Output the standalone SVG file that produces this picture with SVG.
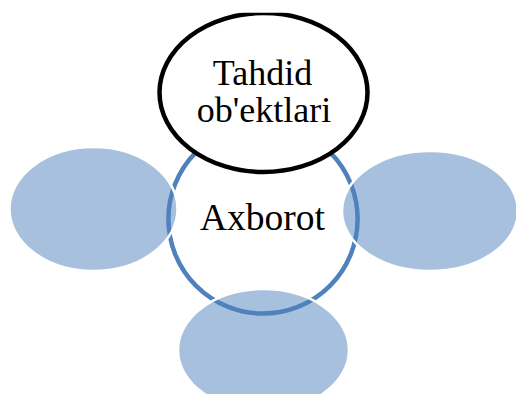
<svg xmlns="http://www.w3.org/2000/svg" width="516" height="394" viewBox="0 0 516 394">
  <defs>
    <clipPath id="topclip">
      <rect x="0" y="12.7" width="516" height="381.3"/>
    </clipPath>
  </defs>
  <style>
    .lbl { font-family: "Liberation Serif", "Times New Roman", serif; font-size: 36px; fill: #000; text-anchor: middle; }
    .petal { fill: #4F81BD; fill-opacity: 0.5; stroke: #FFFFFF; stroke-width: 2.5; }
  </style>
  <rect x="0" y="0" width="516" height="394" fill="#FFFFFF"/>
  <g id="node-axborot">
    <circle cx="263" cy="219" r="94.6" fill="#FFFFFF" stroke="#4F81BD" stroke-width="4.5"/>
    <text class="lbl" x="262.5" y="230" style="font-size:37.5px">Axborot</text>
  </g>
  <g id="node-left">
    <ellipse class="petal" cx="93.5" cy="209" rx="84" ry="62"/>
  </g>
  <g id="node-right">
    <ellipse class="petal" cx="430" cy="211" rx="88" ry="60"/>
  </g>
  <g id="node-bottom">
    <ellipse class="petal" cx="263.5" cy="350" rx="85.5" ry="61"/>
  </g>
  <g id="node-tahdid">
    <ellipse cx="263.5" cy="92.5" rx="104" ry="79.5" fill="#FFFFFF" stroke="#000000" stroke-width="4.5" clip-path="url(#topclip)"/>
    <text class="lbl" x="262.5" y="85">Tahdid</text>
    <text class="lbl" x="264" y="122">ob'ektlari</text>
  </g>
  <g id="connectors"/>
</svg>
